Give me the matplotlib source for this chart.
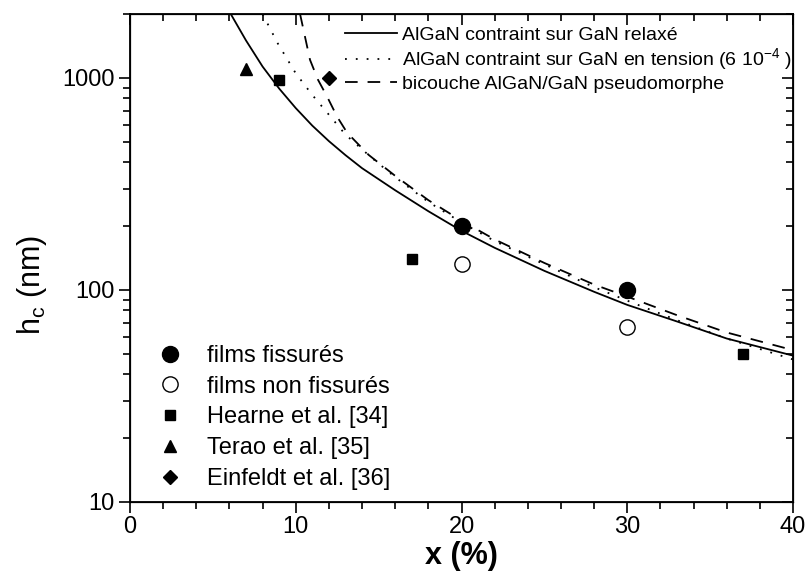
import matplotlib
matplotlib.use("Agg")
import matplotlib.pyplot as plt
from matplotlib.ticker import MultipleLocator, FixedLocator, FuncFormatter, LogLocator, NullFormatter

plt.rcParams["font.family"] = ["Liberation Sans", "DejaVu Sans"]
plt.rcParams["mathtext.fontset"] = "custom"
plt.rcParams["mathtext.rm"] = "Liberation Sans"
plt.rcParams["mathtext.it"] = "Liberation Sans:italic"
plt.rcParams["mathtext.bf"] = "Liberation Sans:bold"

# critical thickness curves (x in %, h_c in nm)
relaxed_x = [6, 7, 8, 9, 10, 11, 12, 13, 14, 16, 18, 20, 22, 25, 28, 30, 33, 36, 40]
relaxed_h = [2050, 1500, 1130, 890, 720, 595, 503, 432, 375, 295, 235, 190, 158, 123, 98, 85, 71, 59, 49]

tension_x = [8, 8.9, 10, 11, 12, 13, 14.5, 16, 18, 20, 22, 25, 28, 30, 33, 36, 40]
tension_h = [2000, 1460, 1050, 830, 670, 540, 425, 340, 260, 208, 170, 132, 103, 89, 72, 59, 47]

bilayer_x = [10.26, 10.86, 11.34, 11.9, 12.5, 13.1, 13.7, 14.4, 16, 18, 20, 22, 25, 28, 30, 33, 36, 40]
bilayer_h = [2000, 1216, 980, 813, 655, 551, 493, 433, 345, 265, 212, 173, 134, 106, 93, 76, 63, 52]

# measured points
cracked_x = [20, 30]
cracked_h = [200, 100]
uncracked_x = [20, 30]
uncracked_h = [133, 67]
hearne_x = [9, 17, 37]
hearne_h = [980, 140, 50]
terao_x = [7]
terao_h = [1100]
einfeldt_x = [12]
einfeldt_h = [1000]

line_labels = [
    "AlGaN contraint sur GaN relaxé",
    "AlGaN contraint sur GaN en tension (6 10$^{-4}$ )",
    "bicouche AlGaN/GaN pseudomorphe",
]
point_labels = [
    "films fissurés",
    "films non fissurés",
    "Hearne et al. [34]",
    "Terao et al. [35]",
    "Einfeldt et al. [36]",
]

W, H = 806, 574
fig = plt.figure(figsize=(W / 100, H / 100), dpi=100)
ax = fig.add_axes([130 / W, 1 - 502 / H, (793 - 130) / W, (502 - 14) / H])

lw = 1.3
l1, = ax.plot(relaxed_x, relaxed_h, color="k", lw=lw, ls="-")
l2, = ax.plot(tension_x, tension_h, color="k", lw=lw, ls=(0, (1, 5)))
l3, = ax.plot(bilayer_x, bilayer_h, color="k", lw=lw, ls=(0, (7, 5.5)))

p1, = ax.plot(cracked_x, cracked_h, "o", ms=11.5, mfc="k", mec="k", ls="none")
p2, = ax.plot(uncracked_x, uncracked_h, "o", ms=11, mfc="white", mec="k", mew=1.0, ls="none")
p3, = ax.plot(hearne_x, hearne_h, "s", ms=7.2, color="k", ls="none")
p4, = ax.plot(terao_x, terao_h, "^", ms=9, color="k", ls="none")
p5, = ax.plot(einfeldt_x, einfeldt_h, "D", ms=7, color="k", ls="none")

ax.set_xlim(0, 40)
ax.set_yscale("log")
ax.set_ylim(10, 2000)

ax.xaxis.set_major_locator(MultipleLocator(10))
ax.xaxis.set_minor_locator(MultipleLocator(2))
ax.yaxis.set_major_locator(FixedLocator([10, 100, 1000]))
ax.yaxis.set_major_formatter(FuncFormatter(lambda v, p: "%d" % v))
ax.yaxis.set_minor_locator(LogLocator(base=10, subs=range(2, 10)))
ax.yaxis.set_minor_formatter(NullFormatter())
ax.tick_params(which="both", direction="out", width=1.2, labelsize=17)
ax.tick_params(axis="x", pad=2)
ax.tick_params(axis="y", pad=3)
ax.tick_params(which="major", length=8)
ax.tick_params(which="minor", length=5)
for s in ax.spines.values():
    s.set_linewidth(1.3)

# mirrored ticks on top and right, pointing inward
top = ax.twiny()
top.set_xlim(ax.get_xlim())
top.xaxis.set_major_locator(MultipleLocator(10))
top.xaxis.set_minor_locator(MultipleLocator(2))
top.tick_params(which="both", direction="in", width=1.2, labeltop=False)
top.tick_params(which="major", length=8)
top.tick_params(which="minor", length=5)
right = ax.twinx()
right.set_yscale("log")
right.set_ylim(ax.get_ylim())
right.yaxis.set_major_locator(FixedLocator([10, 100, 1000]))
right.yaxis.set_minor_locator(LogLocator(base=10, subs=range(2, 10)))
right.yaxis.set_minor_formatter(NullFormatter())
right.tick_params(which="both", direction="in", width=1.2, labelright=False)
right.tick_params(which="major", length=8)
right.tick_params(which="minor", length=5)

ax.set_xlabel("x (%)", fontsize=22, fontweight="bold", labelpad=2)
ax.set_ylabel("$\\mathregular{h_c}$ (nm)", fontsize=22)
ax.yaxis.set_label_coords(-0.122, 0.445)

leg1 = right.legend([l1, l2, l3], line_labels, loc="upper left",
                    bbox_to_anchor=(345 / W, 1 - 26 / H), bbox_transform=fig.transFigure,
                    frameon=False, fontsize=14, handlelength=2.65, handletextpad=0.26,
                    labelspacing=0.14, borderpad=0, borderaxespad=0)
leg2 = right.legend([p1, p2, p3, p4, p5], point_labels, loc="upper left",
                    bbox_to_anchor=(160 / W, 1 - 345 / H), bbox_transform=fig.transFigure,
                    frameon=False, fontsize=17, handlelength=0.85, handletextpad=1.14,
                    labelspacing=0.37, borderpad=0, borderaxespad=0, numpoints=1)
right.add_artist(leg1)

fig.savefig("out.png", dpi=100)
